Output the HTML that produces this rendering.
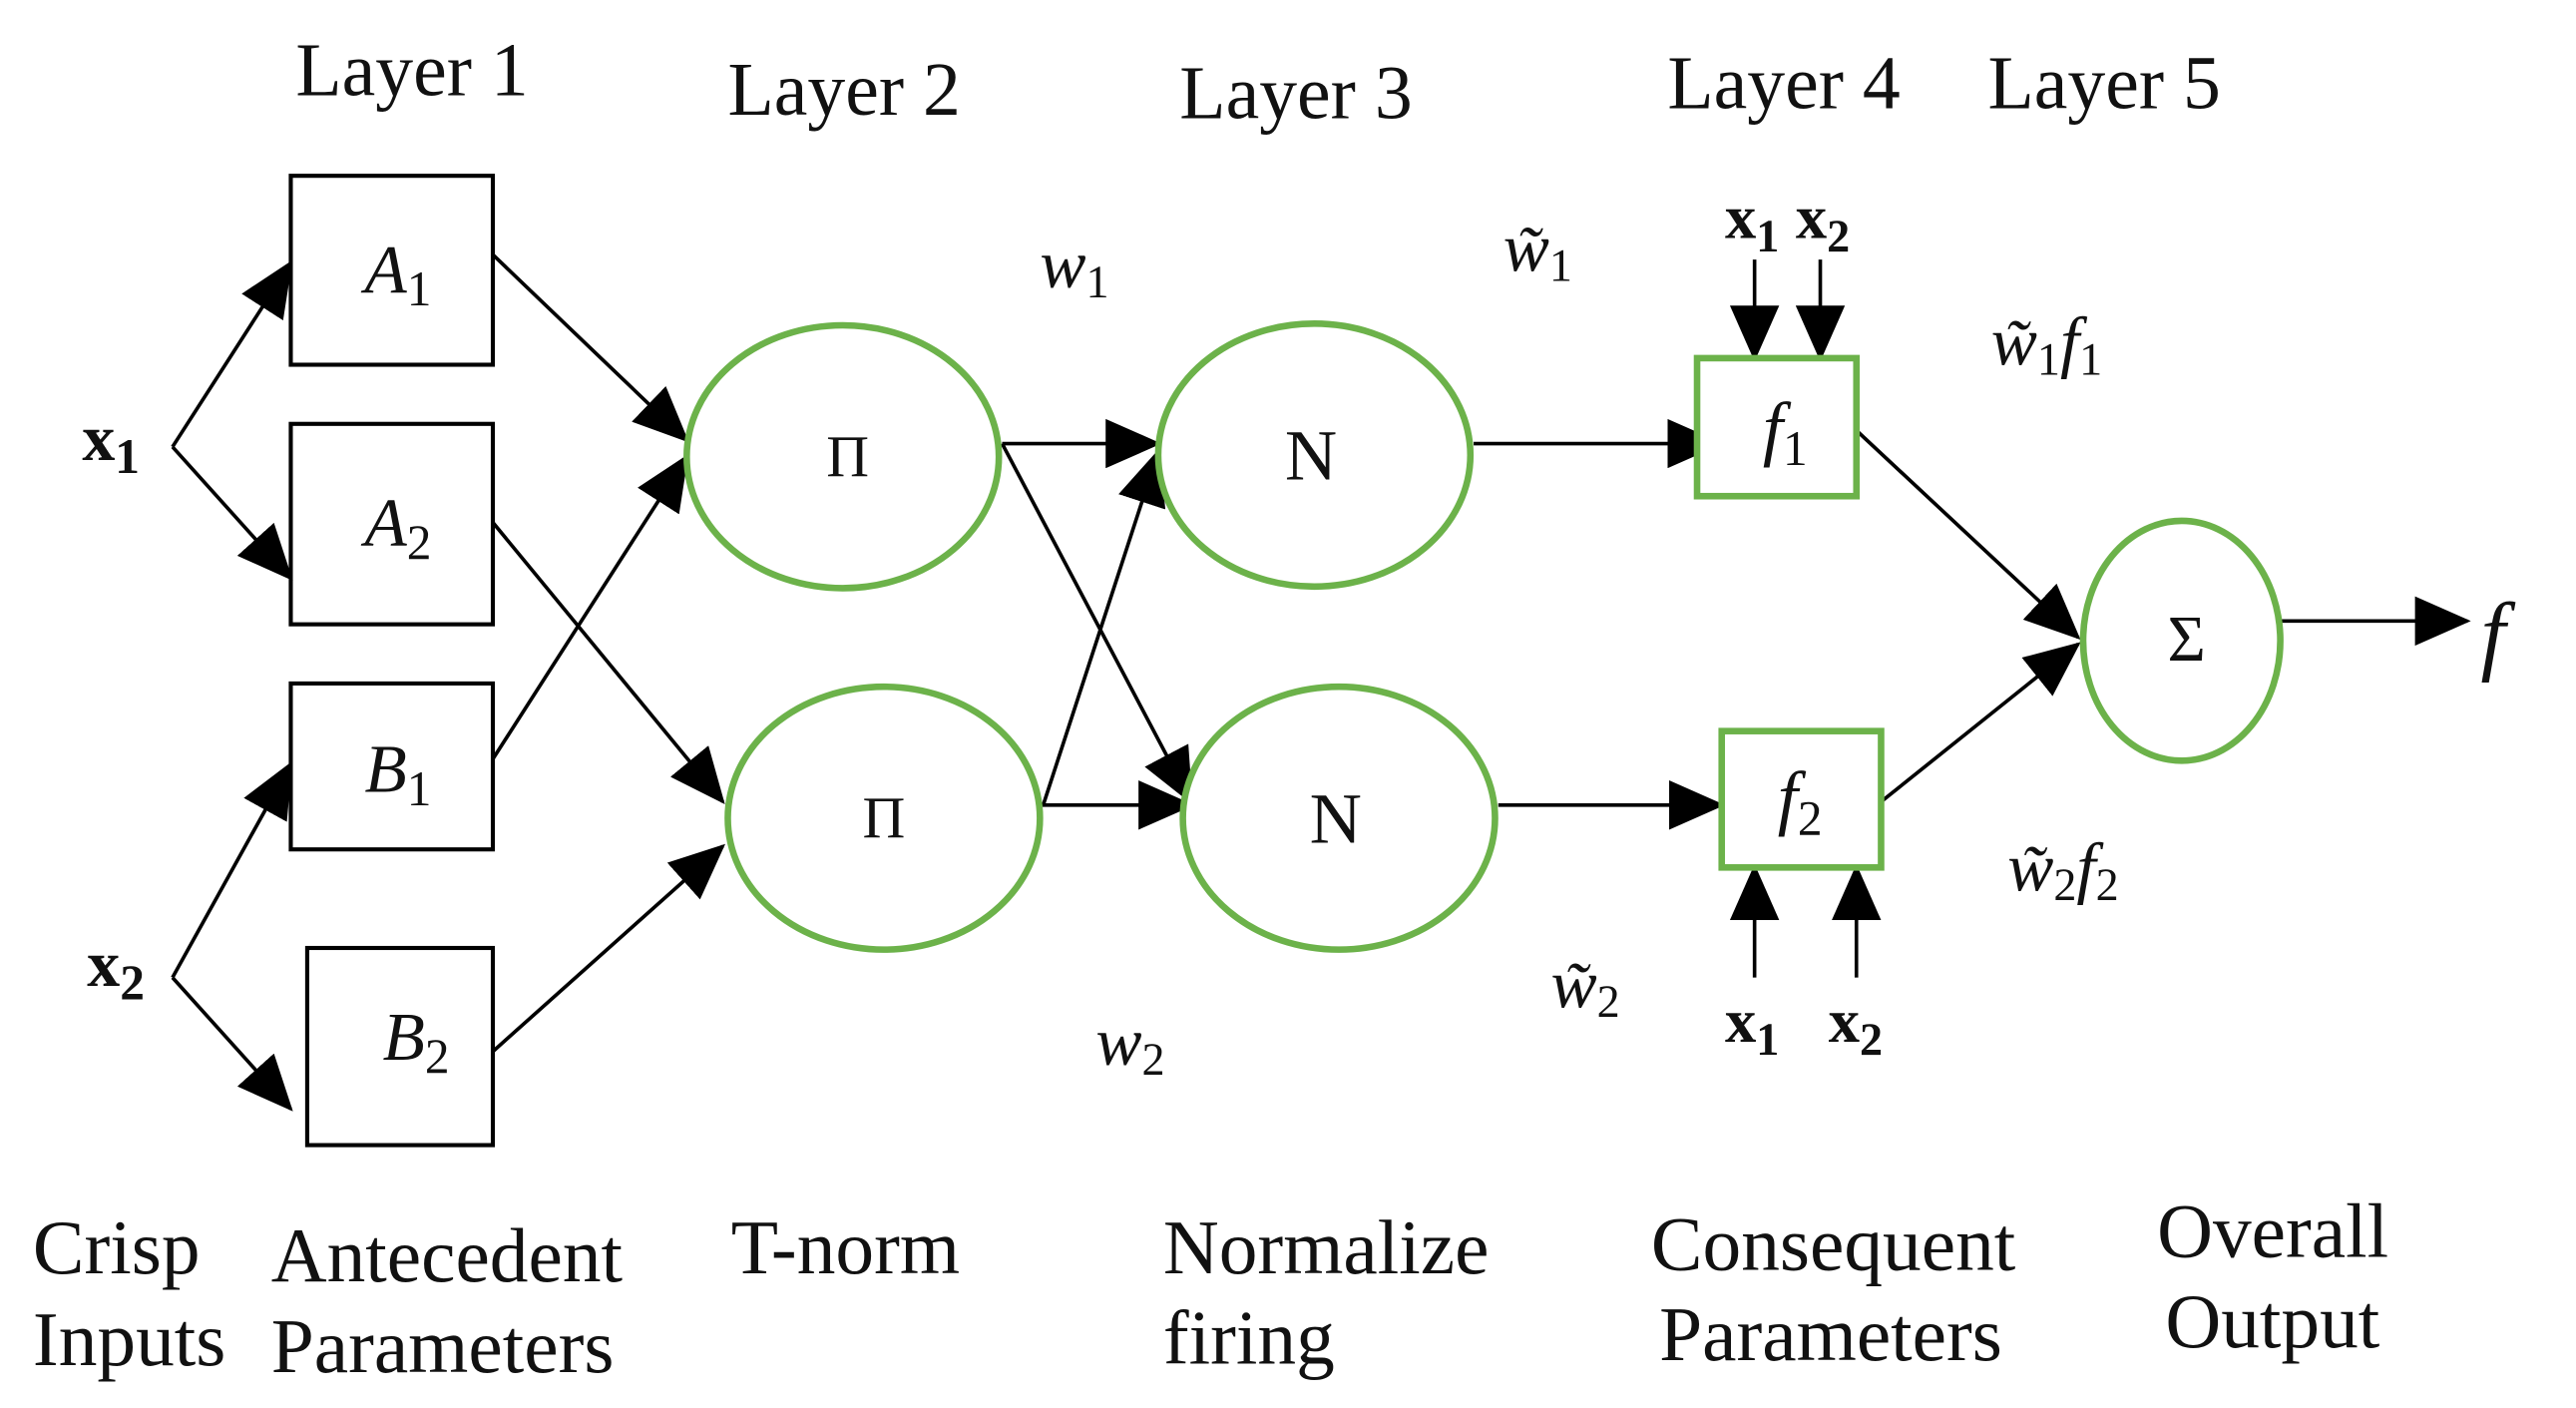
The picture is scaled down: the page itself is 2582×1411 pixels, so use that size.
<!DOCTYPE html>
<html><head><meta charset="utf-8"><style>
html,body{margin:0;padding:0;background:#fff;}
svg{display:block;}
text{font-family:"Liberation Serif",serif;fill:#111;}
.lay{font-size:46px;}
.bot{font-size:47px;}
.it{font-style:italic;}
.b{font-weight:bold;}
.s{font-style:normal;}
</style></head><body>
<svg width="2582" height="1411" viewBox="0 0 1568 857" preserveAspectRatio="none" xmlns="http://www.w3.org/2000/svg">
<defs>
<marker id="ar" markerUnits="userSpaceOnUse" markerWidth="34" markerHeight="30" refX="32" refY="15" orient="auto">
<path d="M0,0 L34,15 L0,30 Z" fill="#000"/>
</marker>
</defs>
<rect width="1568" height="857" fill="#fff"/>
<g class="lay">
<text x="180" y="58">Layer 1</text>
<text x="443" y="70">Layer 2</text>
<text x="718" y="72">Layer 3</text>
<text x="1015" y="66">Layer 4</text>
<text x="1210" y="66">Layer 5</text>
</g>
<g fill="none" stroke="#000" stroke-width="2.5">
<rect x="177" y="107" width="123" height="115"/>
<rect x="177" y="258" width="123" height="122"/>
<rect x="177" y="416" width="123" height="101"/>
<rect x="187" y="577" width="113" height="120"/>
</g>
<g font-size="42" class="it">
<text x="222" y="178">A<tspan class="s" font-size="30" dy="8">1</tspan></text>
<text x="222" y="332">A<tspan class="s" font-size="30" dy="8">2</tspan></text>
<text x="222" y="482">B<tspan class="s" font-size="30" dy="8">1</tspan></text>
<text x="233" y="645">B<tspan class="s" font-size="30" dy="8">2</tspan></text>
</g>
<text x="50" y="280" font-size="40" class="b">x<tspan font-size="30" dy="8">1</tspan></text>
<text x="53" y="600" font-size="40" class="b">x<tspan font-size="30" dy="8">2</tspan></text>
<g fill="none" stroke="#000" stroke-width="2.2" marker-end="url(#ar)">
<path d="M105,272 L177,160"/>
<path d="M105,272 L177,352"/>
<path d="M105,595 L177,465"/>
<path d="M105,595 L177,675"/>
<path d="M300,155 L418,268"/>
<path d="M300,318 L440,488"/>
<path d="M300,462 L418,278"/>
<path d="M300,640 L440,515"/>
<path d="M610,270 L705,270"/>
<path d="M610,270 L725,488"/>
<path d="M628,490 L725,490"/>
<path d="M635,490 L705,275"/>
<path d="M897,270 L1047,270"/>
<path d="M912,490 L1048,490"/>
<path d="M1130,262 L1265,388"/>
<path d="M1145,488 L1265,392"/>
<path d="M1388,378 L1502,378"/>
<path d="M1068,158 L1068,218"/>
<path d="M1108,158 L1108,218"/>
<path d="M1068,595 L1068,528"/>
<path d="M1130,595 L1130,528"/>
</g>
<g fill="#fff" stroke="#6cb24a" stroke-width="4">
<ellipse cx="513" cy="278" rx="95" ry="80"/>
<ellipse cx="538" cy="498" rx="95" ry="80"/>
<ellipse cx="800" cy="277" rx="95" ry="80"/>
<ellipse cx="815" cy="498" rx="95" ry="80"/>
<ellipse cx="1328" cy="390" rx="60" ry="73"/>
<rect x="1033" y="218" width="97" height="84"/>
<rect x="1048" y="445" width="97" height="83"/>
</g>
<g text-anchor="middle">
<text x="516" y="290" font-size="36">Π</text>
<text x="538" y="510" font-size="36">Π</text>
<text x="798" y="292" font-size="44">N</text>
<text x="813" y="513" font-size="44">N</text>
<text x="1331" y="402" font-size="40">Σ</text>
</g>
<g font-size="44" class="it">
<text x="1073" y="275">f<tspan class="s" font-size="30" dy="8">1</tspan></text>
<text x="1082" y="500">f<tspan class="s" font-size="30" dy="8">2</tspan></text>
<text x="1510" y="404" font-size="54">f</text>
</g>
<text x="1050" y="145" font-size="38" class="b">x<tspan font-size="28" dy="8">1</tspan></text>
<text x="1093" y="145" font-size="38" class="b">x<tspan font-size="28" dy="8">2</tspan></text>
<text x="1050" y="634" font-size="38" class="b">x<tspan font-size="28" dy="8">1</tspan></text>
<text x="1113" y="634" font-size="38" class="b">x<tspan font-size="28" dy="8">2</tspan></text>
<g font-size="42" class="it">
<text x="633" y="175">w<tspan class="s" font-size="28" dy="6">1</tspan></text>
<text x="915" y="165">w̃<tspan class="s" font-size="28" dy="6">1</tspan></text>
<text x="667" y="648">w<tspan class="s" font-size="28" dy="6">2</tspan></text>
<text x="944" y="613">w̃<tspan class="s" font-size="28" dy="6">2</tspan></text>
<text x="1212" y="222">w̃<tspan class="s" font-size="28" dy="6">1</tspan><tspan dy="-6">f</tspan><tspan class="s" font-size="28" dy="6">1</tspan></text>
<text x="1222" y="542">w̃<tspan class="s" font-size="28" dy="6">2</tspan><tspan dy="-6">f</tspan><tspan class="s" font-size="28" dy="6">2</tspan></text>
</g>
<g class="bot">
<text x="20" y="775">Crisp</text>
<text x="20" y="831">Inputs</text>
<text x="165" y="780">Antecedent</text>
<text x="165" y="835">Parameters</text>
<text x="445" y="775">T-norm</text>
<text x="708" y="775">Normalize</text>
<text x="708" y="830">firing</text>
<text x="1005" y="773">Consequent</text>
<text x="1010" y="828">Parameters</text>
<text x="1313" y="765">Overall</text>
<text x="1318" y="820">Output</text>
</g>
</svg>
</body></html>
